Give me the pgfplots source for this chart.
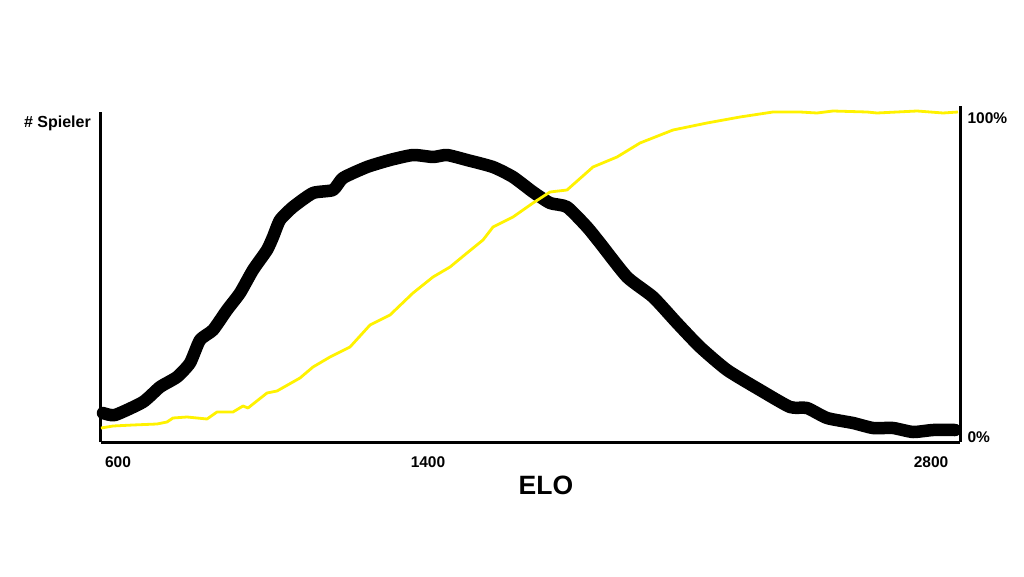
\documentclass[border=0pt]{standalone}
\usepackage{pgfplots}
\pgfplotsset{compat=1.18}
\usepackage{fontspec}
\setmainfont{Liberation Sans}
\begin{document}
\begin{tikzpicture}
\path[use as bounding box] (-101pt,-134pt) rectangle (923pt,442pt);
\begin{axis}[
  at={(0,0)}, anchor=south west,
  scale only axis, width=859pt, height=330pt,
  xmin=101, xmax=960, ymin=0, ymax=330,
  axis x line=bottom, axis y line=left,
  axis line style={-, line width=3pt},
  xtick={118,428,931}, xticklabels={600,1400,2800},
  ytick=\empty,
  major tick length=0pt,
  xticklabel style={font=\bfseries\fontsize{15.5}{17}\selectfont, yshift=-11pt},
  xlabel={ELO},
  xlabel style={font=\bfseries\fontsize{26.5}{30}\selectfont, at={(axis description cs:0.518,-0.130)}, anchor=center},
  clip=false,
]
\addplot[black, line width=12.5pt, line join=round, line cap=round, smooth, tension=0.35] coordinates {
(103,29)(115,27)(143,40)(160,55)(177,65)(190,79)(200,102)(213,112)(227,132)(240,149)(253,172)(267,192)(273,205)(280,222)(293,235)(313,249)(333,252)(343,264)(367,275)(390,282)(413,287)(433,285)(447,287)(467,282)(493,275)(513,265)(533,250)(550,239)(567,235)(587,215)(600,199)(627,165)(653,145)(677,119)(700,95)(727,72)(760,52)(790,35)(807,34)(827,24)(853,19)(873,14)(893,14)(913,10)(933,12)(955,12)
};
\node[anchor=east, inner sep=0pt, font=\bfseries\fontsize{16}{18}\selectfont] at (axis cs:91,319) {\# Spieler};
\end{axis}
\begin{axis}[
  at={(0,0)}, anchor=south west,
  scale only axis, width=859pt, height=336pt,
  xmin=101, xmax=960, ymin=0, ymax=336,
  axis x line=none, axis y line=right,
  axis line style={-, line width=3pt},
  ytick={5,324}, yticklabels={0\%,100\%},
  major tick length=0pt,
  yticklabel style={font=\bfseries\fontsize{15.5}{17}\selectfont, xshift=4pt},
  clip=false,
]
\addplot[yellow, line width=2.8pt, line join=round] coordinates {
(101,14)(113,16)(133,17)(157,18)(167,20)(173,24)(187,25)(207,23)(217,30)(233,30)(243,36)(248,34)(267,49)(277,51)(300,64)(313,75)(330,85)(350,95)(370,117)(390,127)(413,149)(433,165)(450,175)(467,189)(483,202)(493,215)(513,225)(533,239)(550,250)(567,252)(593,275)(617,285)(640,299)(673,312)(707,319)(740,325)(773,330)(800,330)(817,329)(833,331)(867,330)(877,329)(917,331)(943,329)(958,330)
};
\end{axis}
\end{tikzpicture}
\end{document}
